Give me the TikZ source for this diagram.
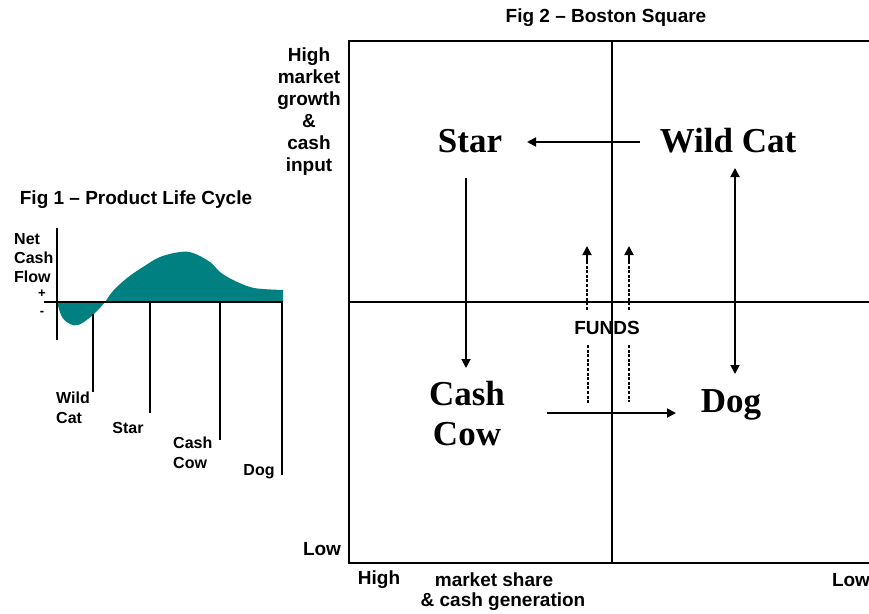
\documentclass[tikz,border=0pt]{standalone}
\usepackage{fontspec}
\setmainfont{Liberation Sans}
\newfontfamily\serifb{Liberation Serif}[BoldFont=* Bold]
\usetikzlibrary{arrows.meta}
\definecolor{plcteal}{HTML}{008080}
\tikzset{
  lbl/.style={font=\fontsize{19}{22}\selectfont\bfseries, inner sep=0pt, align=center},
  slbl/.style={font=\fontsize{16}{20}\selectfont\bfseries, inner sep=0pt, align=left},
  sign/.style={font=\fontsize{13}{14}\selectfont\bfseries, inner sep=0pt},
  big/.style={font=\fontsize{35}{40}\selectfont\serifb\bfseries, inner sep=0pt, align=center},
  frame/.style={line width=2.2pt},
  thin/.style={line width=1.8pt},
  arr/.style={line width=1.8pt, -{Triangle[length=9pt,width=9pt]}},
  darr/.style={line width=1.8pt, {Triangle[length=9pt,width=9pt]}-{Triangle[length=9pt,width=9pt]}},
  dsh/.style={line width=2pt, dash pattern=on 3pt off 1.6pt},
}
\begin{document}
\begin{tikzpicture}[x=1pt,y=-1pt]
\useasboundingbox (0,0) rectangle (869,613);
% ---------- Fig 1 ----------
\node[lbl] (t1) at (136,200) {Fig 1 -- Product Life Cycle};
\fill[plcteal] (57,302) plot[smooth, tension=0.6] coordinates {(57,302) (62,317) (70,324) (78,325) (88,319) (97,311) (105,302) (113,291) (127,278) (143,267) (160,257) (180,252) (193,253) (210,262) (220,272) (233,280) (250,287) (263,289) (283,290)} -- (283,302) -- cycle;
\coordinate (ytop) at (57,228);
\coordinate (ybot) at (57,340);
\coordinate (xl) at (44,302);
\coordinate (xr) at (283,302);
\draw[thin] (ytop) -- (ybot);
\draw[thin] (xl) -- (xr);
\node[slbl, anchor=west] (net) at (14,239) {Net};
\node[slbl, anchor=west] (cash) at (14,258) {Cash};
\node[slbl, anchor=west] (flow) at (14,277) {Flow};
\node[sign] (plus) at (42,294) {+};
\node[sign] (minus) at (42,313) {-};
\coordinate (wc1) at (93,314); \coordinate (wc2) at (93,392);
\coordinate (st1) at (150,303); \coordinate (st2) at (150,413);
\coordinate (cc1) at (220,303); \coordinate (cc2) at (220,440);
\coordinate (dg1) at (282,303); \coordinate (dg2) at (282,475);
\draw[thin] (wc1) -- (wc2);
\draw[thin] (st1) -- (st2);
\draw[thin] (cc1) -- (cc2);
\draw[thin] (dg1) -- (dg2);
\node[slbl, anchor=west] (lwild) at (56,398) {Wild};
\node[slbl, anchor=west] (lcat) at (56,418) {Cat};
\node[slbl] (lstar) at (128,428) {Star};
\node[slbl, anchor=west] (lcash) at (173,443) {Cash};
\node[slbl, anchor=west] (lcow) at (173,463) {Cow};
\node[slbl] (ldog) at (259,472) {Dog};
% ---------- Fig 2 ----------
\node[lbl] (t2) at (606,18) {Fig 2 -- Boston Square};
\coordinate (tl) at (349,41);
\coordinate (tr) at (869,41);
\coordinate (bl) at (349,563);
\coordinate (br) at (869,563);
\coordinate (mt) at (612,41);
\coordinate (mb) at (612,563);
\coordinate (ml) at (349,302);
\coordinate (mr) at (869,302);
\draw[frame] (tr) -- (tl) -- (bl) -- (br);
\draw[frame] (mt) -- (mb);
\draw[frame] (ml) -- (mr);
\node[lbl, anchor=north] (yhigh) at (309,48) {High\\market\\growth\\\&\\cash\\input};
\node[lbl] (ylow) at (322,549) {Low};
\node[lbl] (xhigh) at (379,580) {High};
\node[lbl] (xms) at (494,580) {market share};
\node[lbl] (xcg) at (503,602) {\& cash generation};
\node[lbl] (xlow) at (851,580) {Low};
\node[big] (star) at (470,141) {Star};
\node[big] (wild) at (728,141) {Wild Cat};
\node[big] (cow) at (467,414) {Cash\\Cow};
\node[big] (dog) at (731,405) {Dog};
\node[lbl] (funds) at (607,328) {FUNDS};
\coordinate (a1s) at (640,142); \coordinate (a1e) at (527,142);
\draw[arr] (a1s) -- (a1e);
\coordinate (a2s) at (466,178); \coordinate (a2e) at (466,368);
\draw[arr] (a2s) -- (a2e);
\coordinate (a3s) at (547,413); \coordinate (a3e) at (676,413);
\draw[arr] (a3s) -- (a3e);
\coordinate (a4s) at (735,168); \coordinate (a4e) at (735,374);
\draw[darr] (a4s) -- (a4e);
\coordinate (f1s) at (587,310); \coordinate (f1e) at (587,246);
\coordinate (f2s) at (629,310); \coordinate (f2e) at (629,246);
\draw[dsh] (f1s) -- (587,256);
\draw[dsh] (f2s) -- (629,256);
\draw[arr] (587,262) -- (f1e);
\draw[arr] (629,262) -- (f2e);
\coordinate (g1s) at (588,345); \coordinate (g1e) at (588,404);
\coordinate (g2s) at (629,345); \coordinate (g2e) at (629,402);
\draw[dsh] (g1s) -- (g1e);
\draw[dsh] (g2s) -- (g2e);
\end{tikzpicture}
\end{document}
